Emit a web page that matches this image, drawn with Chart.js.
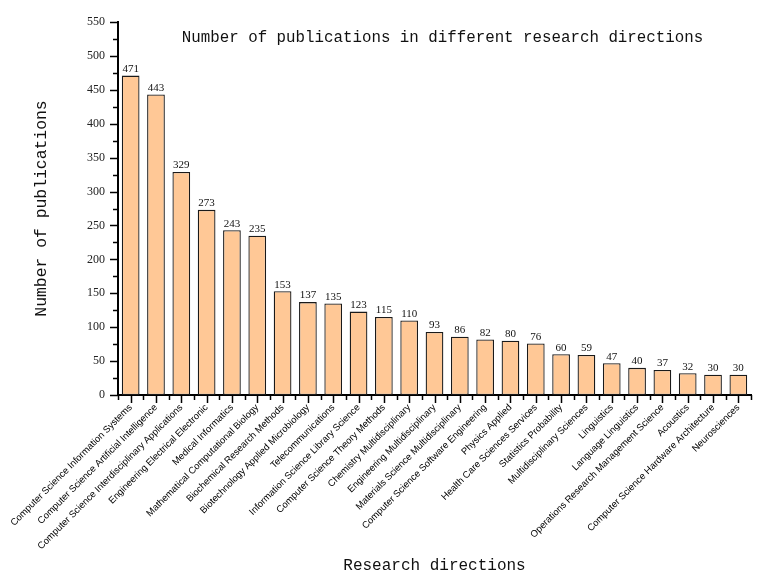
<!DOCTYPE html>
<html>
<head>
<meta charset="utf-8">
<script src="https://cdn.jsdelivr.net/npm/chart.js@4.4.1/dist/chart.umd.min.js"></script>
<style>
  html, body { margin: 0; padding: 0; background: #fff; }
  #wrap { width: 757px; height: 580px; }
</style>
</head>
<body>
<div id="wrap"><canvas id="pubChart" width="757" height="580"></canvas></div>
<script>
// research directions (categories)
var directions = [
	"Computer Science Information Systems",
	"Computer Science Artificial Intelligence",
	"Computer Science Interdisciplinary Applications",
	"Engineering Electrical Electronic",
	"Medical Informatics",
	"Mathematical Computational Biology",
	"Biochemical Research Methods",
	"Biotechnology Applied Microbiology",
	"Telecommunications",
	"Information Science Library Science",
	"Computer Science Theory Methods",
	"Chemistry Multidisciplinary",
	"Engineering Multidisciplinary",
	"Materials Science Multidisciplinary",
	"Computer Science Software Engineering",
	"Physics Applied",
	"Health Care Sciences Services",
	"Statistics Probability",
	"Multidisciplinary Sciences",
	"Linguistics",
	"Language Linguistics",
	"Operations Research Management Science",
	"Acoustics",
	"Computer Science Hardware Architecture",
	"Neurosciences"
];

// number of publications per direction
var publications = [471, 443, 329, 273, 243, 235, 153, 137, 135, 123, 115, 110, 93, 86, 82, 80, 76, 60, 59, 47, 40, 37, 32, 30, 30];

// y axis range
var yMin = 0, yMax = 550, yStep = 50, yMinorStep = 25;

var titleText = "Number of publications in different research directions";
var monoFont = "'Liberation Mono', 'DejaVu Sans Mono', monospace";
var serifFont = "'Liberation Serif', 'DejaVu Serif', serif";

// draws tick marks, value labels and the inner title
var decorPlugin = {
	id: 'decor',
	afterDraw: function (chart) {
		var ctx = chart.ctx,
			xs = chart.scales.x,
			ys = chart.scales.y,
			area = chart.chartArea;
		ctx.save();
		ctx.strokeStyle = '#000';
		ctx.lineWidth = 1.5;

		// y ticks (major + minor, outward)
		for (var v = yMin; v <= yMax; v += yMinorStep) {
			var py = Math.round(ys.getPixelForValue(v)) + 0.5;
			var len = (v % yStep === 0) ? 8 : 5;
			ctx.beginPath();
			ctx.moveTo(area.left - len, py);
			ctx.lineTo(area.left, py);
			ctx.stroke();
		}

		// x ticks: long at bar centres, short at category bounds
		for (var i = 0; i < directions.length; i++) {
			var cx = Math.round(xs.getPixelForValue(i)) + 0.5;
			ctx.beginPath();
			ctx.moveTo(cx, area.bottom);
			ctx.lineTo(cx, area.bottom + 8);
			ctx.stroke();
		}
		for (var k = 0; k <= directions.length; k++) {
			var bx = Math.round(xs.getPixelForValue(k - 0.5)) + 0.5;
			ctx.beginPath();
			ctx.moveTo(bx, area.bottom);
			ctx.lineTo(bx, area.bottom + 5);
			ctx.stroke();
		}

		// value labels on top of the bars
		var meta = chart.getDatasetMeta(0);
		ctx.fillStyle = '#111';
		ctx.font = "11px " + serifFont;
		ctx.textAlign = 'center';
		ctx.textBaseline = 'bottom';
		meta.data.forEach(function (bar, idx) {
			ctx.fillText(publications[idx], bar.x, bar.y - 1);
		});

		// title inside the plot area
		ctx.font = "15.8px " + monoFont;
		ctx.textAlign = 'center';
		ctx.textBaseline = 'middle';
		ctx.fillStyle = '#111';
		ctx.fillText(titleText, 442.5, 38);
		ctx.restore();
	}
};

var ctxB = document.getElementById('pubChart').getContext('2d');
var pubChart = new Chart(ctxB, {
	type: 'bar',
	data: {
		labels: directions,
		datasets: [
			{
				label: "Publications",
				data: publications,
				backgroundColor: "rgb(255,200,150)",
				borderColor: "#1a1a1a",
				borderWidth: 1.3,
				borderSkipped: false,
				barPercentage: 0.7,
				categoryPercentage: 1.0
			}
		]
	},
	options: {
		responsive: false,
		animation: false,
		devicePixelRatio: 1,
		layout: {
			padding: { top: 22, right: 6, bottom: 0, left: 0 }
		},
		plugins: {
			legend: { display: false },
			tooltip: { enabled: false },
			title: { display: false }
		},
		scales: {
			x: {
				grid: { display: false, drawTicks: false },
				border: { display: true, color: '#000', width: 2 },
				ticks: {
					autoSkip: false,
					minRotation: 45,
					maxRotation: 45,
					padding: 7,
					color: '#000',
					font: { family: "'Liberation Sans', Arial, sans-serif", size: 9.5 }
				},
				title: {
					display: true,
					text: 'Research directions',
					color: '#111',
					font: { family: monoFont, size: 16 },
					padding: { top: 0, bottom: 5 }
				},
				afterFit: function (scale) {
					scale.height = 185;
				}
			},
			y: {
				min: yMin,
				max: yMax,
				grid: { display: false, drawTicks: false },
				border: { display: true, color: '#000', width: 2 },
				ticks: {
					stepSize: yStep,
					padding: 13,
					color: '#222',
					font: { family: serifFont, size: 12 }
				},
				title: {
					display: true,
					text: 'Number of publications',
					color: '#111',
					font: { family: monoFont, size: 16.4 },
					padding: { top: 32, bottom: 0 }
				},
				afterFit: function (scale) {
					scale.width = 118;
				}
			}
		}
	},
	plugins: [decorPlugin]
});
</script>
</body>
</html>
